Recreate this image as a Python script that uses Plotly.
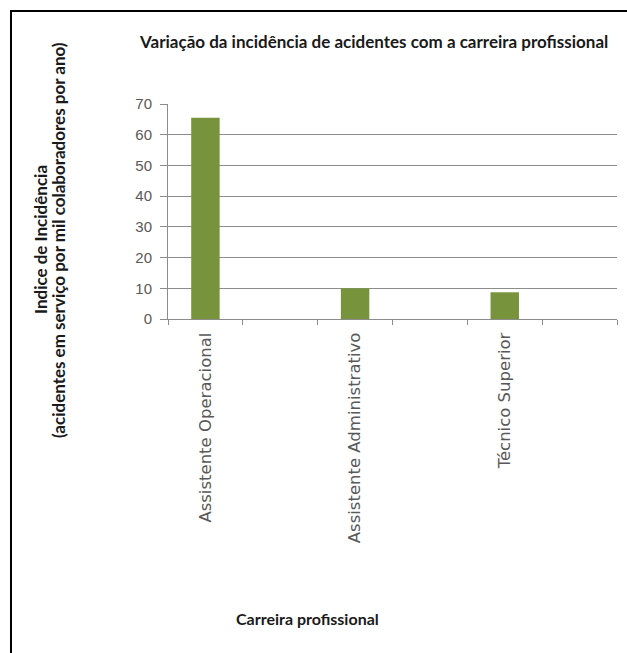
import plotly.graph_objects as go

# Data
carreiras = ["Assistente Operacional", "Assistente Administrativo", "Técnico Superior"]
indice = [65.5, 10.0, 8.7]
y_ticks = [0, 10, 20, 30, 40, 50, 60, 70]
y_title = ["Indice de Incidência",
           "(acidentes em serviço por mil colaboradores por ano)"]

W, H = 627, 653
# plot area in pixels
PX0, PX1 = 168, 617
PY_TOP, PY_BOT = 104, 319


def px(x):
    return (x - PX0) / (PX1 - PX0)


def py(y):
    return (PY_BOT - y) / (PY_BOT - PY_TOP)


GREEN = "#77933C"
GRID = "#8c8c8c"
TICKFONT = dict(family="Liberation Sans, Arial", size=15, color="#595959")
BOLD = "Lato, sans-serif"

fig = go.Figure(
    go.Bar(
        x=list(range(len(carreiras))),
        y=indice,
        width=0.19,
        marker=dict(color=GREEN, line=dict(width=0)),
        hoverinfo="skip",
    )
)

fig.update_layout(
    width=W,
    height=H,
    margin=dict(l=PX0, r=W - PX1, t=PY_TOP, b=H - PY_BOT),
    paper_bgcolor="white",
    plot_bgcolor="white",
    showlegend=False,
    xaxis=dict(
        range=[-0.25, len(carreiras) - 0.25],
        tickmode="array",
        tickvals=list(range(len(carreiras))),
        ticktext=carreiras,
        tickangle=-90,
        tickfont=dict(family="DejaVu Sans", size=16.5, color="#595959"),
        ticks="outside",
        ticklen=6,
        tickcolor="rgba(0,0,0,0)",
        showgrid=False,
        showline=True,
        linecolor=GRID,
        linewidth=1,
        zeroline=False,
        minor=dict(
            tickmode="linear",
            tick0=-0.25,
            dtick=0.5,
            ticks="outside",
            ticklen=5,
            tickcolor=GRID,
            showgrid=False,
        ),
    ),
    yaxis=dict(
        range=[0, 70],
        tickmode="array",
        tickvals=y_ticks,
        ticktext=[str(v) for v in y_ticks],
        tickfont=TICKFONT,
        ticks="outside",
        ticklen=7,
        tickcolor=GRID,
        ticklabelstandoff=5,
        showgrid=True,
        gridcolor=GRID,
        gridwidth=1,
        showline=True,
        linecolor=GRID,
        linewidth=1,
        zeroline=False,
    ),
)

# chart title
fig.add_annotation(
    text="Variação da incidência de acidentes com a carreira profissional",
    x=px(373), y=py(42), xref="paper", yref="paper",
    xanchor="center", yanchor="middle", showarrow=False,
    font=dict(family=BOLD, size=17, weight="bold", color="#1a1a1a"),
)

# vertical axis title, one annotation per line
for line, xpix in zip(y_title, [40, 58]):
    fig.add_annotation(
        text=line,
        x=px(xpix), y=py(240), xref="paper", yref="paper",
        xanchor="center", yanchor="middle", showarrow=False, textangle=-90,
        font=dict(family=BOLD, size=17, weight="bold", color="#1a1a1a"),
    )

# horizontal axis title
fig.add_annotation(
    text="Carreira profissional",
    x=px(307), y=py(618), xref="paper", yref="paper",
    xanchor="center", yanchor="middle", showarrow=False,
    font=dict(family=BOLD, size=16, weight="bold", color="#1a1a1a"),
)

# outer frame (left and top edges)
fig.add_shape(type="line", xref="paper", yref="paper",
              x0=px(11), y0=py(11), x1=px(11), y1=py(H + 5),
              line=dict(color="black", width=2))
fig.add_shape(type="line", xref="paper", yref="paper",
              x0=px(10), y0=py(11), x1=px(W + 5), y1=py(11),
              line=dict(color="black", width=2))

fig.write_html("out.html")
